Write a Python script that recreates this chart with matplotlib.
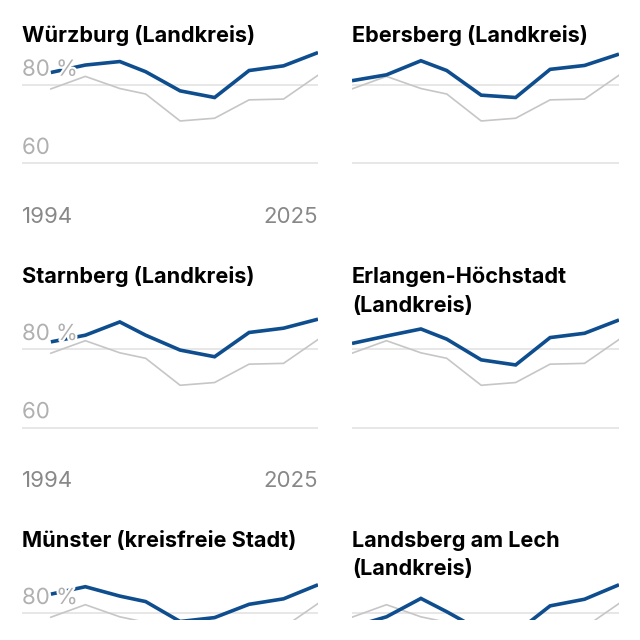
import matplotlib.pyplot as plt
import matplotlib.patheffects as pe

plt.rcParams['font.family'] = ['Inter', 'DejaVu Sans']

# federal election years, turnout in percent
years = [1994, 1998, 2002, 2005, 2009, 2013, 2017, 2021, 2025]
national = [79.0, 82.2, 79.1, 77.7, 70.8, 71.5, 76.2, 76.4, 82.5]

titles = ["Würzburg (Landkreis)", "Ebersberg (Landkreis)",
          "Starnberg (Landkreis)", "Erlangen-Höchstadt\n(Landkreis)",
          "Münster (kreisfreie Stadt)", "Landsberg am Lech\n(Landkreis)"]
wuerzburg = [83.2, 85.1, 86.0, 83.4, 78.5, 76.8, 83.7, 84.9, 88.3]
ebersberg = [81.1, 82.6, 86.2, 83.7, 77.4, 76.8, 84.0, 85.0, 87.9]
starnberg = [81.9, 83.6, 87.0, 83.6, 79.8, 78.1, 84.3, 85.4, 87.7]
erlangen = [81.5, 83.4, 85.2, 82.6, 77.3, 76.0, 83.0, 84.1, 87.5]
muenster = [84.9, 86.8, 84.4, 83.0, 77.9, 78.9, 82.3, 83.7, 87.3]
landsberg = [76.5, 79.1, 83.8, 80.4, 75.5, 75.0, 81.9, 83.6, 87.3]
series = [wuerzburg, ebersberg, starnberg, erlangen, muenster, landsberg]

yticks = [60, 80]
ytick_labels = ["60", "80 %"]
xtick_labels = ["1994", "2025"]

W = H = 640
BLUE = '#0f4e8e'
GREY = '#c6c6c6'
PX = 3.91  # pixels per percentage point

fig = plt.figure(figsize=(6.4, 6.4), dpi=100)

row_title = [41.7, 283.3, 546.7]   # baseline of first title line (px from top)
row_grid80 = [85.0, 349.3, 613.3]  # y of the 80 gridline
col_left = [22, 352]
col_right = [318, 619]
col_xmin = [1990.65, 1994]

for i, (title, vals) in enumerate(zip(titles, series)):
    r, c = divmod(i, 2)
    y80 = row_grid80[r]
    top = y80 - 10 * PX
    bottom = min(y80 + 22 * PX, 620)
    ylo = 80 - (bottom - y80) / PX
    ax = fig.add_axes([col_left[c] / W, 1 - bottom / H,
                       (col_right[c] - col_left[c]) / W, (bottom - top) / H])
    ax.set_xlim(col_xmin[c], 2025)
    ax.set_ylim(ylo, 90)
    ax.axis('off')

    for t in yticks:
        if t >= ylo:
            ax.axhline(t, color='#e3e3e3', lw=1.2, zorder=1)
    ax.plot(years, national, color=GREY, lw=1.2, zorder=2)
    ax.plot(years, vals, color=BLUE, lw=2.6, zorder=3,
            solid_capstyle='butt', solid_joinstyle='miter')

    if c == 0:
        tr = ax.get_yaxis_transform()
        for t, lab in zip(yticks, ytick_labels):
            if t >= ylo:
                ax.text(0, t + 9.3 / PX, lab, transform=tr, ha='left',
                        va='baseline', fontsize=16, color='#b0b0b0', zorder=5,
                        path_effects=[pe.withStroke(linewidth=3, foreground='white')])
        if r < 2:
            yb = 80 - 137.8 / PX
            ax.text(0, yb, xtick_labels[0], transform=tr, ha='left',
                    va='baseline', fontsize=16, color='#888888')
            ax.text(1, yb, xtick_labels[1], transform=tr, ha='right',
                    va='baseline', fontsize=16, color='#888888')

    for k, line in enumerate(title.split('\n')):
        fig.text(col_left[c] / W, 1 - (row_title[r] + 28.3 * k) / H, line,
                 fontsize=15.6, fontweight='bold', color='black',
                 ha='left', va='baseline')

fig.savefig('out.png', dpi=100, facecolor='white')
